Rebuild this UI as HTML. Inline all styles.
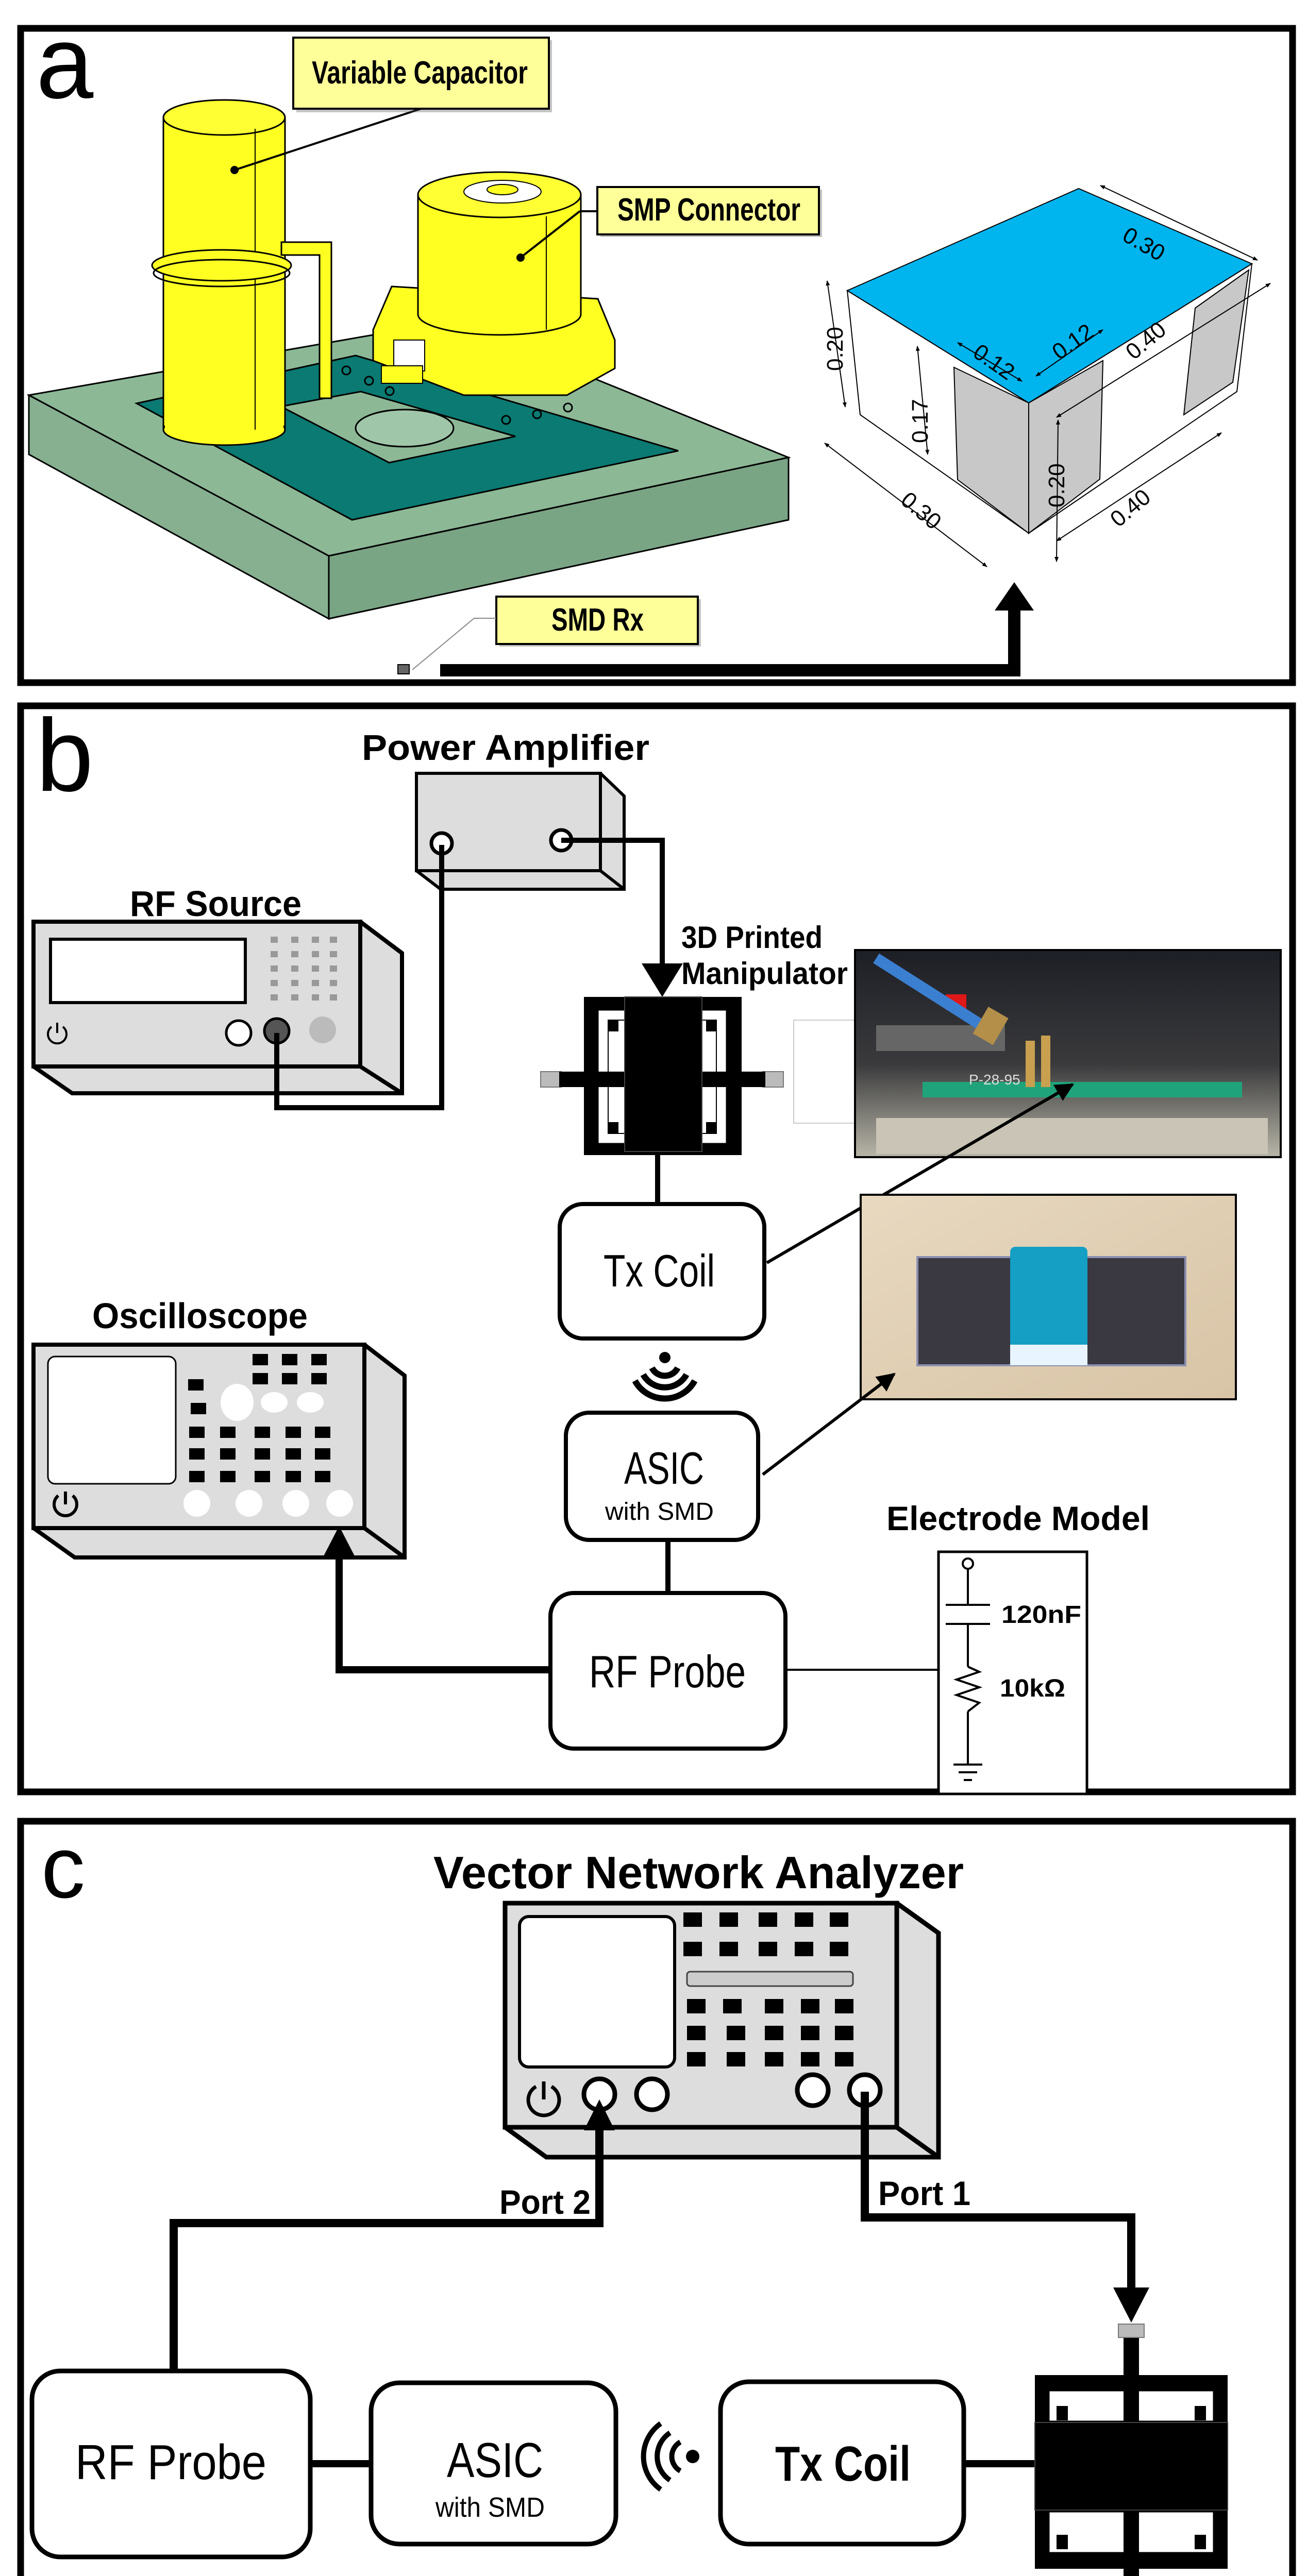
<!DOCTYPE html>
<html><head><meta charset="utf-8"><style>
html,body{margin:0;padding:0;background:#fff;width:2536px;height:5125px;overflow:hidden}
svg{display:block}
text{font-family:"Liberation Sans",sans-serif}
.b{font-weight:bold}
</style></head><body>
<svg width="2536" height="5125" viewBox="0 0 2536 5125" xmlns="http://www.w3.org/2000/svg">
<defs>
<marker id="ah" viewBox="0 0 10 10" refX="9" refY="5" markerWidth="6" markerHeight="6" orient="auto"><path d="M0,0L10,5L0,10z" fill="#000"/></marker>
<marker id="as" viewBox="0 0 10 10" refX="9" refY="5" markerWidth="5" markerHeight="5" orient="auto-start-reverse"><path d="M0,1L10,5L0,9z" fill="#000"/></marker>
<linearGradient id="ph1" x1="0" y1="0" x2="0" y2="1"><stop offset="0" stop-color="#1d1f26"/><stop offset="0.55" stop-color="#3a3a3c"/><stop offset="1" stop-color="#b8b6a8"/></linearGradient>
<linearGradient id="ph2" x1="0" y1="0" x2="1" y2="1"><stop offset="0" stop-color="#e8d9c0"/><stop offset="1" stop-color="#d8c4a6"/></linearGradient>
</defs>

<!-- PANEL A -->
<rect x="40" y="55" width="2468" height="1270" fill="#fff" stroke="#000" stroke-width="13"/>
<text x="70" y="190" font-size="200">a</text>

<polygon points="56,767 878,623 1530,888 638,1079" fill="#8cb896" stroke="#000" stroke-width="3"/>
<polygon points="56,767 638,1079 638,1201 56,882" fill="#86b090" stroke="#000" stroke-width="3"/>
<polygon points="638,1079 1530,888 1530,1009 638,1201" fill="#7aa585" stroke="#000" stroke-width="3"/>
<polygon points="265,783 690,690 1316,875 683,1009" fill="#0a7a72" stroke="#000" stroke-width="3"/>
<polygon points="545,789 700,760 1000,847 755,898" fill="#8cb896" stroke="#000" stroke-width="3"/>
<ellipse cx="785" cy="831" rx="95" ry="36" fill="#9fc6a8" stroke="#000" stroke-width="3"/>
<g fill="none" stroke="#000" stroke-width="3">
<circle cx="672" cy="719" r="8"/><circle cx="716" cy="739" r="8"/><circle cx="756" cy="759" r="8"/>
<circle cx="982" cy="815" r="8"/><circle cx="1042" cy="804" r="8"/><circle cx="1102" cy="791" r="8"/>
</g>
<rect x="317" y="228" width="236" height="606" fill="#ffff22" stroke="#000" stroke-width="3"/>
<ellipse cx="435" cy="834" rx="118" ry="30" fill="#ffff22" stroke="#000" stroke-width="3"/>
<rect x="320" y="228" width="230" height="604" fill="#ffff22"/>
<ellipse cx="435" cy="228" rx="118" ry="34" fill="#ffff33" stroke="#000" stroke-width="3"/>
<line x1="495" y1="250" x2="495" y2="834" stroke="#000" stroke-width="2"/>
<ellipse cx="430" cy="515" rx="135" ry="30" fill="#ffff22" stroke="#000" stroke-width="3"/>
<ellipse cx="430" cy="530" rx="132" ry="26" fill="none" stroke="#000" stroke-width="3"/>
<polygon points="546,470 643,470 643,773 620,773 620,495 546,495" fill="#ffff22" stroke="#000" stroke-width="3"/>
<circle cx="455" cy="330" r="8"/>
<line x1="455" y1="330" x2="820" y2="210" stroke="#000" stroke-width="4"/>
<polygon points="724,640 760,556 1160,580 1193,660 1193,715 1100,767 900,767 724,700" fill="#ffff22" stroke="#000" stroke-width="3"/>
<rect x="764" y="660" width="60" height="60" fill="#fff" stroke="#000" stroke-width="2"/>
<rect x="740" y="710" width="80" height="34" fill="#ffff22" stroke="#000" stroke-width="2"/>
<path d="M811,378 L811,610 A158,40 0 0 0 1127,610 L1127,378 Z" fill="#ffff22" stroke="#000" stroke-width="3"/>
<ellipse cx="969" cy="378" rx="158" ry="44" fill="#ffff33" stroke="#000" stroke-width="3"/>
<ellipse cx="975" cy="372" rx="75" ry="22" fill="#fff" stroke="#000" stroke-width="2"/>
<ellipse cx="975" cy="368" rx="30" ry="10" fill="#ffff22" stroke="#000" stroke-width="2"/>
<line x1="1060" y1="420" x2="1060" y2="640" stroke="#000" stroke-width="2"/>
<circle cx="1010" cy="500" r="8"/>
<line x1="1010" y1="500" x2="1125" y2="410" stroke="#000" stroke-width="4"/>
<line x1="1125" y1="410" x2="1159" y2="410" stroke="#000" stroke-width="4"/>
<rect x="575" y="78" width="496" height="140" fill="#555" opacity="0.35"/>
<rect x="569" y="73" width="496" height="138" fill="#ffff99" stroke="#000" stroke-width="4"/>
<text x="605" y="162" font-size="62" class="b" textLength="419" lengthAdjust="spacingAndGlyphs">Variable Capacitor</text>
<rect x="1165" y="368" width="430" height="92" fill="#555" opacity="0.35"/>
<rect x="1159" y="363" width="430" height="92" fill="#ffff99" stroke="#000" stroke-width="4"/>
<text x="1198" y="428" font-size="62" class="b" textLength="355" lengthAdjust="spacingAndGlyphs">SMP Connector</text>
<rect x="969" y="1163" width="391" height="92" fill="#555" opacity="0.35"/>
<rect x="963" y="1158" width="391" height="92" fill="#ffff99" stroke="#000" stroke-width="4"/>
<text x="1070" y="1224" font-size="62" class="b" textLength="179" lengthAdjust="spacingAndGlyphs">SMD Rx</text>
<polyline points="963,1200 920,1200 800,1300" fill="none" stroke="#888" stroke-width="2"/>
<rect x="772" y="1290" width="22" height="18" fill="#666" stroke="#000" stroke-width="2"/>
<polyline points="854,1301 1968,1301 1968,1180" fill="none" stroke="#000" stroke-width="24"/>
<polygon points="1930,1185 2006,1185 1968,1130" fill="#000"/>
<polygon points="1644,564 1996,782 1996,1035 1669,805" fill="#fff" stroke="#000" stroke-width="2"/>
<polygon points="1851,713 1996,782 1996,1035 1858,931" fill="#c8c8c8" stroke="#000" stroke-width="2"/>
<polygon points="1996,782 2429,512 2400,760 1996,1035" fill="#fff" stroke="#000" stroke-width="2"/>
<polygon points="1996,782 2140,700 2134,930 1996,1035" fill="#c8c8c8" stroke="#000" stroke-width="2"/>
<polygon points="2319,598 2423,524 2392,742 2297,805" fill="#c8c8c8" stroke="#000" stroke-width="2"/>
<polygon points="1644,564 2093,366 2429,512 1996,782" fill="#00b4ee" stroke="#000" stroke-width="2"/>
<g stroke="#000" stroke-width="2" fill="none" marker-end="url(#as)" marker-start="url(#as)">
<line x1="1605" y1="545" x2="1640" y2="790"/>
<line x1="1780" y1="672" x2="1800" y2="882"/>
<line x1="1600" y1="860" x2="1915" y2="1100"/>
<line x1="2050" y1="1050" x2="2370" y2="840"/>
<line x1="2135" y1="360" x2="2440" y2="505"/>
<line x1="2050" y1="810" x2="2465" y2="550"/>
<line x1="2053" y1="815" x2="2050" y2="1090"/>
<line x1="1858" y1="665" x2="1983" y2="740"/>
<line x1="2010" y1="730" x2="2140" y2="640"/>
</g>
<g font-family="Liberation Serif" font-size="44" fill="#000" style="font-family:'Liberation Serif',serif">
<text transform="translate(1635,720) rotate(-90)">0.20</text>
<text transform="translate(1800,860) rotate(-90)">0.17</text>
<text transform="translate(1745,975) rotate(40)">0.30</text>
<text transform="translate(2175,465) rotate(30)">0.30</text>
<text transform="translate(2200,700) rotate(-40)">0.40</text>
<text transform="translate(2170,1025) rotate(-40)">0.40</text>
<text transform="translate(2065,985) rotate(-90)">0.20</text>
<text transform="translate(1885,690) rotate(35)">0.12</text>
<text transform="translate(2055,700) rotate(-35)">0.12</text>
</g>

<!-- PANEL B -->
<rect x="40" y="1370" width="2468" height="2108" fill="#fff" stroke="#000" stroke-width="13"/>
<text x="70" y="1535" font-size="200">b</text>
<text x="702" y="1475" font-size="70" class="b" textLength="558" lengthAdjust="spacingAndGlyphs">Power Amplifier</text>
<polygon points="808,1501 1165,1501 1211,1545 1211,1726 855,1726 808,1690" fill="#ddd" stroke="#000" stroke-width="6"/>
<rect x="808" y="1501" width="357" height="189" fill="#ddd" stroke="#000" stroke-width="6"/>
<line x1="1165" y1="1690" x2="1211" y2="1726" stroke="#000" stroke-width="6"/>
<circle cx="857" cy="1637" r="20" fill="#fff" stroke="#000" stroke-width="7"/>
<circle cx="1089" cy="1631" r="20" fill="#fff" stroke="#000" stroke-width="7"/>
<text x="252" y="1778" font-size="70" class="b" textLength="333" lengthAdjust="spacingAndGlyphs">RF Source</text>
<polygon points="65,1789 699,1789 780,1850 780,2122 140,2122 65,2070" fill="#ddd" stroke="#000" stroke-width="8"/>
<rect x="65" y="1789" width="634" height="281" fill="#ddd" stroke="#000" stroke-width="8"/>
<line x1="699" y1="2070" x2="780" y2="2122" stroke="#000" stroke-width="8"/>
<line x1="699" y1="1789" x2="780" y2="1850" stroke="#000" stroke-width="8"/>
<rect x="98" y="1823" width="378" height="123" fill="#fff" stroke="#000" stroke-width="6"/>
<g fill="#999">
<rect x="525" y="1818" width="14" height="12"/><rect x="565" y="1818" width="14" height="12"/><rect x="605" y="1818" width="14" height="12"/><rect x="640" y="1818" width="14" height="12"/>
<rect x="525" y="1846" width="14" height="12"/><rect x="565" y="1846" width="14" height="12"/><rect x="605" y="1846" width="14" height="12"/><rect x="640" y="1846" width="14" height="12"/>
<rect x="525" y="1874" width="14" height="12"/><rect x="565" y="1874" width="14" height="12"/><rect x="605" y="1874" width="14" height="12"/><rect x="640" y="1874" width="14" height="12"/>
<rect x="525" y="1902" width="14" height="12"/><rect x="565" y="1902" width="14" height="12"/><rect x="605" y="1902" width="14" height="12"/><rect x="640" y="1902" width="14" height="12"/>
<rect x="525" y="1930" width="14" height="12"/><rect x="565" y="1930" width="14" height="12"/><rect x="605" y="1930" width="14" height="12"/><rect x="640" y="1930" width="14" height="12"/>
</g>
<path d="M100,1993 A18,18 0 1 0 122,1993 M111,1985 L111,2005" fill="none" stroke="#000" stroke-width="4"/>
<circle cx="463" cy="2005" r="24" fill="#fff" stroke="#000" stroke-width="5"/>
<circle cx="537" cy="2001" r="24" fill="#555" stroke="#000" stroke-width="5"/>
<circle cx="626" cy="1999" r="26" fill="#bbb"/>
<polyline points="857,1640 857,2150 537,2150 537,2005" fill="none" stroke="#000" stroke-width="10"/>
<polyline points="1089,1631 1285,1631 1285,1880" fill="none" stroke="#000" stroke-width="10"/>
<polygon points="1245,1870 1325,1870 1285,1935" fill="#000"/>
<text x="1322" y="1840" font-size="60" class="b" textLength="274" lengthAdjust="spacingAndGlyphs">3D Printed</text>
<text x="1322" y="1910" font-size="60" class="b" textLength="323" lengthAdjust="spacingAndGlyphs">Manipulator</text>
<rect x="1049" y="2080" width="40" height="30" fill="#bbb" stroke="#777" stroke-width="2"/>
<rect x="1480" y="2080" width="40" height="30" fill="#bbb" stroke="#777" stroke-width="2"/>
<rect x="1133" y="1935" width="306" height="307" fill="#000"/>
<rect x="1160" y="1960" width="250" height="260" fill="#fff" stroke="#000" stroke-width="3"/>
<rect x="1180" y="1980" width="210" height="220" fill="#fff" stroke="#000" stroke-width="2"/>
<rect x="1085" y="2080" width="400" height="30" fill="#000"/>
<rect x="1180" y="1980" width="20" height="22" fill="#000"/><rect x="1370" y="1980" width="20" height="22" fill="#000"/>
<rect x="1180" y="2178" width="20" height="22" fill="#000"/><rect x="1370" y="2178" width="20" height="22" fill="#000"/>
<rect x="1212" y="1935" width="150" height="300" fill="#000" stroke="#444" stroke-width="2"/>
<line x1="1276" y1="2242" x2="1276" y2="2337" stroke="#000" stroke-width="10"/>
<rect x="1540" y="1980" width="120" height="200" fill="#fff" stroke="#ccc" stroke-width="2"/>
<rect x="1659" y="1844" width="826" height="402" fill="url(#ph1)" stroke="#000" stroke-width="4"/>
<rect x="1700" y="1990" width="250" height="50" fill="#666"/>
<rect x="1835" y="1930" width="40" height="30" fill="#e01818"/>
<line x1="1700" y1="1860" x2="1920" y2="2000" stroke="#3b7fd0" stroke-width="22"/>
<rect x="1900" y="1960" width="45" height="60" fill="#b38f4a" transform="rotate(30 1920 1990)"/>
<rect x="1790" y="2100" width="620" height="30" fill="#1fa37a"/>
<rect x="1700" y="2170" width="760" height="70" fill="#c9c4b5"/>
<rect x="1990" y="2020" width="18" height="90" fill="#c8a050"/><rect x="2020" y="2010" width="18" height="100" fill="#c8a050"/>
<text x="1880" y="2105" font-size="28" fill="#ddd">P-28-95</text>
<rect x="1086" y="2337" width="397" height="261" rx="45" fill="#fff" stroke="#000" stroke-width="8"/>
<text x="1171" y="2497" font-size="88" textLength="216" lengthAdjust="spacingAndGlyphs">Tx Coil</text>
<line x1="1488" y1="2451" x2="2081" y2="2105" stroke="#000" stroke-width="6" marker-end="url(#ah)"/>
<rect x="1670" y="2319" width="728" height="397" fill="url(#ph2)" stroke="#000" stroke-width="4"/>
<rect x="1780" y="2440" width="520" height="210" fill="#3a3840" stroke="#8a8fb0" stroke-width="4"/>
<rect x="1960" y="2420" width="150" height="230" rx="10" fill="#159fc4"/>
<rect x="1960" y="2610" width="150" height="40" fill="#e8f4ff"/>
<line x1="1480" y1="2862" x2="1735" y2="2667" stroke="#000" stroke-width="6" marker-end="url(#ah)"/>
<rect x="1225" y="2617" width="130" height="118" fill="#fff"/>
<circle cx="1290" cy="2635" r="11" fill="#000"/>
<g fill="none" stroke="#000" stroke-width="12">
<path d="M1265,2655 A28,28 0 0 0 1315,2655"/>
<path d="M1248,2668 A48,48 0 0 0 1332,2668"/>
<path d="M1232,2680 A66,66 0 0 0 1348,2680"/>
</g>
<rect x="1098" y="2742" width="373" height="247" rx="45" fill="#fff" stroke="#000" stroke-width="8"/>
<text x="1211" y="2880" font-size="88" textLength="155" lengthAdjust="spacingAndGlyphs">ASIC</text>
<text x="1174" y="2950" font-size="48" textLength="211" lengthAdjust="spacingAndGlyphs">with SMD</text>
<line x1="1296" y1="2989" x2="1296" y2="3092" stroke="#000" stroke-width="10"/>
<rect x="1068" y="3092" width="456" height="302" rx="45" fill="#fff" stroke="#000" stroke-width="8"/>
<text x="1143" y="3275" font-size="88" textLength="304" lengthAdjust="spacingAndGlyphs">RF Probe</text>
<text x="179" y="2578" font-size="70" class="b" textLength="418" lengthAdjust="spacingAndGlyphs">Oscilloscope</text>
<polygon points="65,2610 707,2610 785,2670 785,3023 145,3023 65,2966" fill="#ddd" stroke="#000" stroke-width="8"/>
<rect x="65" y="2610" width="642" height="356" fill="#ddd" stroke="#000" stroke-width="8"/>
<line x1="707" y1="2966" x2="785" y2="3023" stroke="#000" stroke-width="8"/>
<line x1="707" y1="2610" x2="785" y2="2670" stroke="#000" stroke-width="8"/>
<rect x="93" y="2633" width="248" height="247" rx="14" fill="#fff" stroke="#000" stroke-width="3"/>
<g fill="#000">
<rect x="490" y="2628" width="30" height="22"/><rect x="547" y="2628" width="30" height="22"/><rect x="604" y="2628" width="30" height="22"/>
<rect x="490" y="2665" width="30" height="22"/><rect x="547" y="2665" width="30" height="22"/><rect x="604" y="2665" width="30" height="22"/>
<rect x="365" y="2677" width="30" height="22"/><rect x="370" y="2723" width="30" height="22"/>
<rect x="367" y="2769" width="30" height="22"/><rect x="427" y="2769" width="30" height="22"/><rect x="494" y="2769" width="30" height="22"/><rect x="554" y="2769" width="30" height="22"/><rect x="611" y="2769" width="30" height="22"/>
<rect x="367" y="2811" width="30" height="22"/><rect x="427" y="2811" width="30" height="22"/><rect x="494" y="2811" width="30" height="22"/><rect x="554" y="2811" width="30" height="22"/><rect x="611" y="2811" width="30" height="22"/>
<rect x="367" y="2855" width="30" height="22"/><rect x="427" y="2855" width="30" height="22"/><rect x="494" y="2855" width="30" height="22"/><rect x="554" y="2855" width="30" height="22"/><rect x="611" y="2855" width="30" height="22"/>
</g>
<ellipse cx="460" cy="2722" rx="32" ry="36" fill="#fff"/>
<ellipse cx="532" cy="2722" rx="26" ry="20" fill="#fff"/><ellipse cx="602" cy="2722" rx="26" ry="20" fill="#fff"/>
<circle cx="382" cy="2918" r="26" fill="#fff"/><circle cx="483" cy="2918" r="26" fill="#fff"/><circle cx="574" cy="2918" r="26" fill="#fff"/><circle cx="659" cy="2918" r="26" fill="#fff"/>
<path d="M113,2903 A22,22 0 1 0 141,2903 M127,2895 L127,2920" fill="none" stroke="#000" stroke-width="6"/>
<polyline points="1068,3241 658,3241 658,3010" fill="none" stroke="#000" stroke-width="14"/>
<polygon points="628,3020 688,3020 658,2962" fill="#000"/>
<text x="1720" y="2970" font-size="66" class="b" textLength="511" lengthAdjust="spacingAndGlyphs">Electrode Model</text>
<rect x="1821" y="3012" width="288" height="470" fill="#fff" stroke="#000" stroke-width="5"/>
<line x1="1524" y1="3241" x2="1821" y2="3241" stroke="#000" stroke-width="4"/>
<g stroke="#000" stroke-width="4" fill="none">
<circle cx="1878" cy="3035" r="10"/>
<line x1="1878" y1="3045" x2="1878" y2="3115"/>
<line x1="1835" y1="3115" x2="1921" y2="3115"/>
<line x1="1835" y1="3152" x2="1921" y2="3152"/>
<line x1="1878" y1="3152" x2="1878" y2="3235"/>
<polyline points="1878,3235 1900,3245 1856,3260 1900,3275 1856,3290 1900,3305 1878,3322"/>
<line x1="1878" y1="3322" x2="1878" y2="3425"/>
<line x1="1850" y1="3425" x2="1906" y2="3425"/>
<line x1="1860" y1="3440" x2="1896" y2="3440"/>
<line x1="1870" y1="3455" x2="1886" y2="3455"/>
</g>
<text x="1943" y="3150" font-size="48" class="b" textLength="155" lengthAdjust="spacingAndGlyphs">120nF</text>
<text x="1940" y="3293" font-size="48" class="b" textLength="127" lengthAdjust="spacingAndGlyphs">10kΩ</text>

<!-- PANEL C -->
<rect x="40" y="3535" width="2468" height="1545" fill="#fff" stroke="#000" stroke-width="13"/>
<text x="80" y="3683" font-size="170">c</text>
<text x="841" y="3665" font-size="88" class="b" textLength="1029" lengthAdjust="spacingAndGlyphs">Vector Network Analyzer</text>
<polygon points="980,3694 1740,3694 1821,3752 1821,4187 1060,4187 980,4129" fill="#ddd" stroke="#000" stroke-width="9"/>
<rect x="980" y="3694" width="760" height="435" fill="#ddd" stroke="#000" stroke-width="9"/>
<line x1="1740" y1="4129" x2="1821" y2="4187" stroke="#000" stroke-width="9"/>
<line x1="1740" y1="3694" x2="1821" y2="3752" stroke="#000" stroke-width="9"/>
<rect x="1008" y="3720" width="301" height="292" rx="18" fill="#fff" stroke="#000" stroke-width="6"/>
<g fill="#000">
<rect x="1326" y="3712" width="36" height="28"/><rect x="1396" y="3712" width="36" height="28"/><rect x="1472" y="3712" width="36" height="28"/><rect x="1542" y="3712" width="36" height="28"/><rect x="1610" y="3712" width="36" height="28"/>
<rect x="1326" y="3769" width="36" height="28"/><rect x="1396" y="3769" width="36" height="28"/><rect x="1472" y="3769" width="36" height="28"/><rect x="1542" y="3769" width="36" height="28"/><rect x="1610" y="3769" width="36" height="28"/>
<rect x="1333" y="3880" width="36" height="28"/><rect x="1403" y="3880" width="36" height="28"/><rect x="1484" y="3880" width="36" height="28"/><rect x="1554" y="3880" width="36" height="28"/><rect x="1620" y="3880" width="36" height="28"/>
<rect x="1333" y="3932" width="36" height="28"/><rect x="1410" y="3932" width="36" height="28"/><rect x="1484" y="3932" width="36" height="28"/><rect x="1554" y="3932" width="36" height="28"/><rect x="1620" y="3932" width="36" height="28"/>
<rect x="1333" y="3983" width="36" height="28"/><rect x="1410" y="3983" width="36" height="28"/><rect x="1484" y="3983" width="36" height="28"/><rect x="1554" y="3983" width="36" height="28"/><rect x="1620" y="3983" width="36" height="28"/>
</g>
<rect x="1333" y="3827" width="322" height="28" rx="6" fill="#ccc" stroke="#444" stroke-width="3"/>
<path d="M1040,4050 A30,30 0 1 0 1070,4050 M1055,4040 L1055,4075" fill="none" stroke="#000" stroke-width="7"/>
<circle cx="1163" cy="4065" r="30" fill="#fff" stroke="#000" stroke-width="9"/>
<circle cx="1265" cy="4065" r="30" fill="#fff" stroke="#000" stroke-width="9"/>
<circle cx="1577" cy="4057" r="30" fill="#fff" stroke="#000" stroke-width="9"/>
<circle cx="1678" cy="4057" r="30" fill="#fff" stroke="#000" stroke-width="9"/>
<polyline points="337,4602 337,4315 1163,4315 1163,4130" fill="none" stroke="#000" stroke-width="16"/>
<polygon points="1133,4135 1193,4135 1163,4075" fill="#000"/>
<text x="969" y="4297" font-size="66" class="b" textLength="177" lengthAdjust="spacingAndGlyphs">Port 2</text>
<polyline points="1678,4060 1678,4304 2195,4304 2195,4450" fill="none" stroke="#000" stroke-width="16"/>
<polygon points="2160,4440 2230,4440 2195,4508" fill="#000"/>
<text x="1704" y="4280" font-size="66" class="b" textLength="179" lengthAdjust="spacingAndGlyphs">Port 1</text>
<line x1="602" y1="4782" x2="720" y2="4782" stroke="#000" stroke-width="14"/>
<line x1="1870" y1="4782" x2="2010" y2="4782" stroke="#000" stroke-width="14"/>
<rect x="62" y="4602" width="540" height="361" rx="55" fill="#fff" stroke="#000" stroke-width="9"/>
<text x="146" y="4812" font-size="96" textLength="371" lengthAdjust="spacingAndGlyphs">RF Probe</text>
<rect x="720" y="4625" width="475" height="313" rx="55" fill="#fff" stroke="#000" stroke-width="9"/>
<text x="867" y="4808" font-size="96" textLength="187" lengthAdjust="spacingAndGlyphs">ASIC</text>
<text x="845" y="4885" font-size="54" textLength="212" lengthAdjust="spacingAndGlyphs">with SMD</text>
<rect x="1398" y="4623" width="472" height="315" rx="55" fill="#fff" stroke="#000" stroke-width="9"/>
<text x="1504" y="4815" font-size="96" class="b" textLength="263" lengthAdjust="spacingAndGlyphs">Tx Coil</text>
<rect x="1235" y="4700" width="130" height="140" fill="#fff"/>
<circle cx="1344" cy="4768" r="13" fill="#000"/>
<g fill="none" stroke="#000" stroke-width="10">
<path d="M1320,4740 A32,32 0 0 0 1320,4796"/>
<path d="M1300,4722 A55,55 0 0 0 1300,4814"/>
<path d="M1282,4704 A78,78 0 0 0 1282,4832"/>
</g>
<rect x="2180" y="4511" width="30" height="553" fill="#000"/>
<rect x="2170" y="4511" width="50" height="26" fill="#bbb" stroke="#777" stroke-width="2"/>
<rect x="2170" y="5040" width="50" height="26" fill="#bbb" stroke="#777" stroke-width="2"/>
<rect x="2008" y="4610" width="374" height="376" fill="#000"/>
<rect x="2035" y="4640" width="320" height="60" fill="#fff" stroke="#000" stroke-width="3"/>
<rect x="2035" y="4875" width="320" height="80" fill="#fff" stroke="#000" stroke-width="3"/>
<rect x="2180" y="4640" width="30" height="315" fill="#000"/>
<rect x="2050" y="4670" width="22" height="28" fill="#000"/><rect x="2318" y="4670" width="22" height="28" fill="#000"/>
<rect x="2050" y="4920" width="22" height="28" fill="#000"/><rect x="2318" y="4920" width="22" height="28" fill="#000"/>
<rect x="2008" y="4702" width="374" height="170" fill="#000" stroke="#444" stroke-width="2"/>
</svg>
</body></html>
